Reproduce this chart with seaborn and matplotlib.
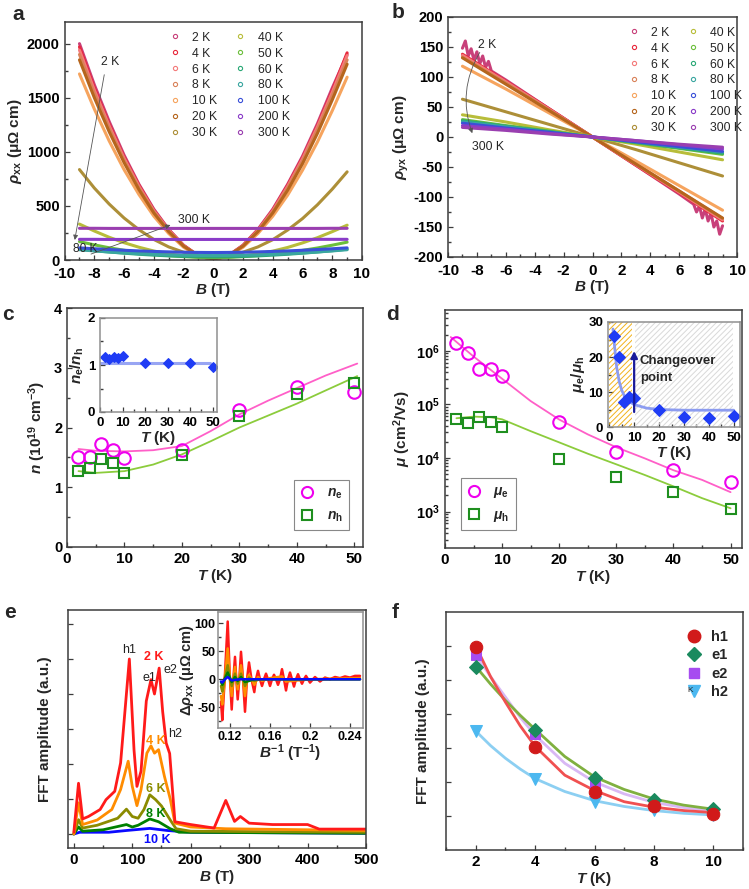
import matplotlib
matplotlib.use("Agg")
import matplotlib.pyplot as plt
import pandas as pd
import seaborn as sns
from matplotlib.lines import Line2D
from matplotlib.ticker import MultipleLocator, NullFormatter, LogLocator

# ---------------- data ----------------
temps = ["2 K", "4 K", "6 K", "8 K", "10 K", "20 K", "30 K",
         "40 K", "50 K", "60 K", "80 K", "100 K", "200 K", "300 K"]
temp_colors = ["#c8407a", "#e8283c", "#f47a7a", "#d9825a", "#f6a45e", "#b5651d", "#ad8f38",
               "#b8bd3a", "#6cbf3c", "#2aa876", "#3aa6a0", "#3a50d8", "#8a3cc8", "#9a3fb0"]

# panel a : rho_xx (uOhm cm) vs B (T)
B_a = [-9, -8, -7, -6, -5, -4, -3, -2, -1, 0, 1, 2, 3, 4, 5, 6, 7, 8, 9]
rxx_2K = [2000, 1620, 1280, 970, 700, 470, 283, 137, 40, 5, 40, 137, 283, 470, 700, 960, 1260, 1590, 1900]
rxx_4K = [1970, 1590, 1255, 950, 690, 460, 278, 134, 38, 5, 38, 134, 278, 460, 690, 945, 1240, 1565, 1915]
rxx_6K = [1940, 1570, 1240, 940, 680, 455, 275, 132, 38, 5, 38, 132, 275, 455, 680, 935, 1230, 1550, 1890]
rxx_8K = [1900, 1540, 1215, 920, 665, 445, 268, 130, 37, 5, 37, 130, 268, 445, 665, 915, 1205, 1520, 1850]
rxx_10K = [1720, 1395, 1100, 835, 605, 405, 245, 118, 34, 5, 34, 118, 245, 405, 600, 830, 1090, 1380, 1690]
rxx_20K = [1850, 1500, 1185, 900, 650, 435, 262, 128, 40, 8, 40, 128, 262, 435, 645, 890, 1170, 1480, 1810]
rxx_30K = [836, 665, 517, 388, 280, 190, 121, 72, 42, 32, 42, 72, 121, 188, 277, 383, 510, 655, 815]
rxx_40K = [332, 268, 210, 160, 118, 83, 57, 38, 26, 22, 26, 38, 56, 82, 116, 158, 206, 262, 322]
rxx_50K = [170, 140, 113, 90, 70, 54, 41, 31, 25, 23, 25, 31, 41, 54, 70, 89, 111, 137, 165]
rxx_60K = [100, 86, 74, 63, 53, 45, 38, 33, 30, 29, 30, 33, 38, 45, 53, 63, 74, 86, 100]
rxx_80K = [95, 84, 74, 65, 58, 52, 47, 44, 42, 41, 42, 44, 47, 52, 58, 65, 74, 84, 95]
rxx_100K = [112, 104, 97, 90, 84, 79, 75, 72, 70, 69, 70, 72, 75, 79, 84, 90, 97, 104, 112]
rxx_200K = [191, 191, 190, 190, 190, 190, 190, 190, 190, 190, 190, 190, 190, 190, 190, 190, 191, 191, 191]
rxx_300K = [293, 293, 292, 292, 292, 292, 292, 292, 292, 292, 292, 292, 292, 292, 292, 292, 292, 293, 293]
rxx_all = [rxx_2K, rxx_4K, rxx_6K, rxx_8K, rxx_10K, rxx_20K, rxx_30K,
           rxx_40K, rxx_50K, rxx_60K, rxx_80K, rxx_100K, rxx_200K, rxx_300K]

# panel b : rho_yx (uOhm cm) vs B (T)
B_b = [-9, -6, -3, 0, 3, 6, 9]
B_b2K = [-9, -8.8, -8.6, -8.4, -8.2, -8, -7.8, -7.6, -7.4, -7.2, -7, -6, -3, 0,
         3, 6, 7, 7.2, 7.4, 7.6, 7.8, 8, 8.2, 8.4, 8.6, 8.8, 9]
ryx_2K = [148, 160, 135, 147, 128, 142, 122, 135, 116, 126, 110, 95, 47, 0,
          -47, -95, -112, -125, -115, -135, -120, -140, -127, -150, -140, -162, -148]
ryx_4K = [138, 93, 47, 0, -47, -93, -140]
ryx_6K = [136, 92, 46, 0, -46, -92, -138]
ryx_8K = [133, 90, 45, 0, -45, -90, -136]
ryx_10K = [118, 80, 40, 0, -40, -81, -122]
ryx_20K = [132, 88, 44, 0, -45, -90, -135]
ryx_30K = [63, 42, 21, 0, -21, -43, -65]
ryx_40K = [37, 25, 12, 0, -12, -25, -38]
ryx_50K = [29, 19, 10, 0, -10, -19, -29]
ryx_60K = [27, 18, 9, 0, -9, -18, -27]
ryx_80K = [25, 17, 8, 0, -8, -17, -25]
ryx_100K = [23, 15, 8, 0, -8, -16, -24]
ryx_200K = [19, 13, 6, 0, -6, -13, -20]
ryx_300K = [16, 11, 5, 0, -6, -12, -17]
ryx_rest = [ryx_4K, ryx_6K, ryx_8K, ryx_10K, ryx_20K, ryx_30K, ryx_40K,
            ryx_50K, ryx_60K, ryx_80K, ryx_100K, ryx_200K, ryx_300K]

# panels c, d
T_cd = [2, 4, 6, 8, 10, 20, 30, 40, 50]
n_e = [1.51, 1.50, 1.73, 1.62, 1.49, 1.62, 2.29, 2.67, 2.60]
n_h = [1.28, 1.33, 1.48, 1.41, 1.24, 1.54, 2.19, 2.56, 2.74]
T_nfit = [2, 5, 10, 15, 20, 25, 30, 35, 40, 45, 50.5]
n_e_fit = [1.64, 1.61, 1.60, 1.62, 1.69, 1.94, 2.22, 2.45, 2.66, 2.87, 3.07]
n_h_fit = [1.27, 1.24, 1.27, 1.38, 1.55, 1.77, 2.00, 2.20, 2.40, 2.62, 2.86]
n_ratio = [1.18, 1.13, 1.17, 1.15, 1.20, 1.05, 1.05, 1.04, 0.95]
T_ratio_fit = [0, 49]
n_ratio_fit = [1.05, 1.05]

mu_e = [1.4e6, 9.2e5, 4.6e5, 4.5e5, 3.4e5, 4.7e4, 1.3e4, 5.9e3, 3.6e3]
mu_h = [5.3e4, 4.4e4, 5.8e4, 4.7e4, 3.8e4, 9.7e3, 4.5e3, 2.3e3, 1.12e3]
T_mue_fit = [1, 5, 10, 15, 20, 25, 30, 35, 40, 45, 50]
mu_e_fit = [1.8e6, 7.8e5, 3.0e5, 1.15e5, 5.2e4, 2.75e4, 1.58e4, 9.8e3, 5.9e3, 3.9e3, 2.3e3]
T_muh_fit = [2, 5, 8, 10, 15, 20, 25, 30, 35, 40, 45, 50]
mu_h_fit = [5.5e4, 5.9e4, 5.75e4, 5.25e4, 3.16e4, 1.95e4, 1.2e4, 7.6e3, 4.8e3, 2.95e3, 1.78e3, 1.15e3]
mu_ratio = [26, 20, 7.2, 8.7, 8.2, 4.8, 2.9, 2.6, 3.1]
T_mur_fit = [1.5, 2, 3, 4, 5, 6, 8, 10, 15, 20, 30, 40, 50]
mu_ratio_fit = [28, 24, 17, 13, 10.5, 9, 7.3, 6.4, 5.4, 5.0, 4.8, 4.8, 4.8]

# panel e : FFT amplitude vs frequency
f_2K = [0, 8, 15, 25, 45, 55, 70, 80, 95, 103, 108, 115, 124, 132, 138, 146, 152, 158, 164, 173,
        200, 240, 260, 275, 285, 300, 340, 400, 420, 500]
a_2K = [0.05, 1.45, 0.43, 0.5, 0.7, 0.98, 1.22, 2.03, 5.0, 2.4, 1.36, 1.8, 3.8, 4.41, 4.0, 4.74, 3.5,
        2.6, 2.3, 0.35, 0.27, 0.17, 0.96, 0.36, 0.5, 0.31, 0.27, 0.27, 0.14, 0.14]
f_4K = [0, 8, 15, 40, 65, 80, 93, 100, 108, 115, 125, 132, 138, 145, 155, 165, 173, 200, 260, 500]
a_4K = [0, 0.89, 0.27, 0.4, 0.7, 1.27, 2.08, 1.36, 0.81, 1.27, 2.31, 2.52, 2.31, 2.41, 1.65, 1.0,
        0.31, 0.2, 0.15, 0.1]
f_6K = [0, 8, 15, 40, 75, 90, 100, 110, 120, 130, 140, 150, 165, 175, 200, 500]
a_6K = [0, 0.41, 0.17, 0.25, 0.45, 0.71, 0.5, 0.45, 0.7, 1.12, 0.98, 0.8, 0.4, 0.15, 0.08, 0.05]
f_8K = [0, 8, 15, 50, 90, 100, 110, 130, 145, 165, 180, 500]
a_8K = [0, 0.2, 0.08, 0.12, 0.27, 0.2, 0.25, 0.43, 0.35, 0.15, 0.05, 0.02]
f_10K = [0, 10, 60, 90, 130, 160, 200, 500]
a_10K = [0, 0.05, 0.05, 0.1, 0.16, 0.1, 0.05, 0.02]

# inset e : oscillation vs 1/B
x_2K = [0.1110, 0.1123, 0.1150, 0.1177, 0.1197, 0.1217, 0.1233, 0.1250, 0.1263, 0.1277,
        0.1293, 0.1310, 0.1330, 0.1350, 0.1370, 0.1390, 0.1415, 0.1443, 0.1460, 0.1480,
        0.1500, 0.1520, 0.1540, 0.1560, 0.1580, 0.1600, 0.1620, 0.1640, 0.1660, 0.1680,
        0.1700, 0.1720, 0.1740, 0.1760, 0.1780, 0.1800, 0.1820, 0.1840, 0.1860, 0.1880,
        0.1900, 0.1920, 0.1940, 0.1960, 0.1980, 0.2000, 0.2050, 0.2100, 0.2150, 0.2200,
        0.2250, 0.2300, 0.2350, 0.2400, 0.2450, 0.2500]
d_2K = [-40, -73, 10, 103, 10, -54, 0, 40, 0, -36,
        0, 49, 0, -58, 0, 30, 0, -23, 0, 15,
        0, -12, 0, 10, 0, -12, 0, 8, 0, -10,
        0, 18, 0, -20, 0, 12, 0, -13, 0, 9,
        0, -8, 0, 6, 0, -6, 4, -4, 3, 0,
        4, 2, 5, 3, 6, 6]
x_4K = [0.1110, 0.1123, 0.1150, 0.1177, 0.1197, 0.1217, 0.1233, 0.1250, 0.1263, 0.1277,
        0.1293, 0.1310, 0.1330, 0.1350, 0.1370, 0.1390, 0.1415, 0.1443, 0.1480, 0.1520,
        0.1600, 0.1720, 0.1760, 0.2000, 0.2500]
d_4K = [-30, -45, 5, 55, 5, -30, 0, 22, 0, -18,
        0, 25, 0, -30, 0, 8, 0, -10, 4, -3,
        2, 5, -4, 0, 2]
x_6K = [0.1110, 0.1123, 0.1150, 0.1177, 0.1197, 0.1217, 0.1250, 0.1277, 0.1310, 0.1350,
        0.1390, 0.1443, 0.1500, 0.2500]
d_6K = [-12, -22, 3, 25, 3, -12, 10, -8, 10, -12, 3, -3, 0, 0]
x_8K = [0.1110, 0.1123, 0.1150, 0.1177, 0.1217, 0.1250, 0.1277, 0.1310, 0.1350, 0.1450, 0.2500]
d_8K = [-5, -10, 2, 12, -5, 4, -3, 4, -5, 0, 0]
x_10K = [0.1110, 0.1123, 0.1150, 0.1177, 0.1217, 0.1300, 0.2500]
d_10K = [-4, -6, 0, 4, -2, 0, 0]

# panel f : FFT amplitude vs T
T_f = [2, 4, 6, 8, 10]
amp_h1 = [4.98, 2.04, 0.72, 0.30, 0.05]
amp_e1 = [4.39, 2.53, 1.13, 0.46, 0.20]
amp_e2 = [4.73, 2.40, 0.98, 0.34, 0.12]
amp_h2 = [2.50, 1.08, 0.42, 0.18, 0.02]
T_ffit = [2, 2.5, 3, 3.5, 4, 5, 6, 7, 8, 9, 10]
fit_h1 = [5.0, 4.1, 3.35, 2.65, 2.05, 1.2, 0.75, 0.42, 0.26, 0.16, 0.1]
fit_e1 = [4.4, 3.88, 3.4, 2.96, 2.55, 1.75, 1.15, 0.78, 0.5, 0.32, 0.2]
fit_e2 = [4.75, 4.1, 3.5, 2.9, 2.38, 1.55, 1.0, 0.65, 0.4, 0.25, 0.15]
fit_h2 = [2.5, 2.07, 1.7, 1.38, 1.1, 0.72, 0.45, 0.28, 0.16, 0.08, 0.03]

# ---------------- style ----------------
sns.set_theme(style="ticks")
plt.rcParams["font.family"] = ["Liberation Sans", "DejaVu Sans"]
plt.rcParams.update({
    "font.weight": "bold", "axes.labelweight": "bold",
    "axes.unicode_minus": False,
    "mathtext.fontset": "custom",
    "mathtext.rm": "Liberation Sans:bold",
    "mathtext.it": "Liberation Sans:italic:bold",
    "mathtext.bf": "Liberation Sans:bold",
    "mathtext.sf": "Liberation Sans:bold",
    "xtick.direction": "in", "ytick.direction": "in",
    "axes.edgecolor": "#3c3c3c", "axes.linewidth": 1.1,
    "xtick.color": "#3c3c3c", "ytick.color": "#3c3c3c",
    "xtick.labelcolor": "black", "ytick.labelcolor": "black",
    "xtick.major.size": 3.5, "ytick.major.size": 3.5,
    "xtick.minor.size": 2.0, "ytick.minor.size": 2.0,
    "xtick.major.width": 0.9, "ytick.major.width": 0.9,
    "xtick.labelsize": 11, "ytick.labelsize": 10.5, "axes.labelsize": 11,
    "hatch.linewidth": 0.7,
    "axes.facecolor": "white", "figure.facecolor": "white",
})

W, H = 749, 889
fig = plt.figure(figsize=(W / 100, H / 100), dpi=100)


def add_ax(l, t, r, b):
    return fig.add_axes([l / W, 1 - b / H, (r - l) / W, (b - t) / H])


def panel_letter(x, y, s):
    fig.text(x / W, 1 - y / H, s, fontsize=15, fontweight="bold", ha="left", va="center")


# ---------------- panel a ----------------
axa = add_ax(64.6, 22, 362, 260)
df_a = pd.concat([pd.DataFrame({"B": B_a, "rho": v, "T": t}) for t, v in zip(temps, rxx_all)])
sns.lineplot(data=df_a, x="B", y="rho", hue="T", hue_order=temps, palette=temp_colors,
             lw=2.2, estimator=None, sort=False, legend=False, ax=axa)
axa.set_xlim(-10, 10)
axa.set_ylim(0, 2200)
axa.xaxis.set_major_locator(MultipleLocator(2))
axa.xaxis.set_minor_locator(MultipleLocator(1))
axa.yaxis.set_major_locator(MultipleLocator(500))
axa.yaxis.set_minor_locator(MultipleLocator(250))
axa.tick_params(axis="x", pad=5)
axa.set_xlabel(r"$B$ (T)", labelpad=0)
axa.set_ylabel(r"$\rho_{\mathrm{xx}}$ (μΩ cm)", labelpad=2)
handles = [Line2D([], [], marker="o", ls="", ms=3, mfc="none", mec=c, mew=0.8) for c in temp_colors]
axa.legend(handles, temps, ncol=2, loc="upper left", bbox_to_anchor=(0.33, 0.99), frameon=False,
           prop={"size": 8.8, "weight": "normal"}, handlelength=0.8, handletextpad=1.0,
           columnspacing=1.5, labelspacing=0.32, borderaxespad=0.2)
axa.annotate("", xy=(-9.35, 160), xytext=(-7.3, 1738),
             arrowprops=dict(arrowstyle="-|>", color="#555555", lw=0.6, mutation_scale=7))
axa.text(-6.95, 1828, "2 K", fontsize=8.8, fontweight="normal", ha="center", va="center")
axa.annotate("", xy=(-2.7, 332), xytext=(-8.4, 46),
             arrowprops=dict(arrowstyle="-|>", color="#555555", lw=0.6, mutation_scale=7))
axa.text(-1.3, 369, "300 K", fontsize=8.8, fontweight="normal", ha="center", va="center")
axa.text(-8.6, 98, "80 K", fontsize=8.6, fontweight="normal", ha="center", va="center")
panel_letter(12, 15, "a")

# ---------------- panel b ----------------
axb = add_ax(448, 17, 737, 257)
df_b = pd.concat([pd.DataFrame({"B": B_b2K, "rho": ryx_2K, "T": temps[0]})] +
                 [pd.DataFrame({"B": B_b, "rho": v, "T": t}) for t, v in zip(temps[1:], ryx_rest)])
sns.lineplot(data=df_b, x="B", y="rho", hue="T", hue_order=temps, palette=temp_colors,
             lw=2.2, estimator=None, sort=False, legend=False, ax=axb)
axb.set_xlim(-10, 10)
axb.set_ylim(-200, 200)
axb.xaxis.set_major_locator(MultipleLocator(2))
axb.xaxis.set_minor_locator(MultipleLocator(1))
axb.yaxis.set_major_locator(MultipleLocator(50))
axb.yaxis.set_minor_locator(MultipleLocator(25))
axb.tick_params(axis="x", pad=5)
axb.set_xlabel(r"$B$ (T)", labelpad=0)
axb.set_ylabel(r"$\rho_{\mathrm{yx}}$ (μΩ cm)", labelpad=2)
axb.legend(handles, temps, ncol=2, loc="upper left", bbox_to_anchor=(0.6, 0.99), frameon=False,
           prop={"size": 8.8, "weight": "normal"}, handlelength=0.8, handletextpad=1.0,
           columnspacing=1.0, labelspacing=0.32, borderaxespad=0.2)
axb.annotate("", xy=(-8.25, 2), xytext=(-7.7, 145),
             arrowprops=dict(arrowstyle="-|>", color="#555555", lw=0.6, mutation_scale=7,
                             connectionstyle="arc3,rad=0.25"))
axb.text(-7.3, 154, "2 K", fontsize=8.8, fontweight="normal", ha="center", va="center")
axb.text(-7.2, -16, "300 K", fontsize=8.8, fontweight="normal", ha="center", va="center")
panel_letter(392, 12, "b")

# ---------------- panel c ----------------
pink, green_fit = "#ff5fc8", "#8ccc3c"
mag, grn = "#ee00ee", "#1f8f1f"
axc = add_ax(67, 308, 363, 547)
sns.lineplot(x=T_nfit, y=n_e_fit, color=pink, lw=1.3, ax=axc)
sns.lineplot(x=T_nfit, y=n_h_fit, color=green_fit, lw=1.3, ax=axc)
sns.lineplot(x=T_cd, y=n_e, marker="o", linestyle="", ms=9, mfc="none", mec=mag, mew=1.5,
             color=mag, ax=axc)
sns.lineplot(x=T_cd, y=n_h, marker="s", linestyle="", ms=7.5, mfc="none", mec=grn, mew=1.5,
             color=grn, ax=axc)
axc.set_xlim(0, 51.5)
axc.set_ylim(0, 4)
axc.xaxis.set_major_locator(MultipleLocator(10))
axc.xaxis.set_minor_locator(MultipleLocator(5))
axc.yaxis.set_major_locator(MultipleLocator(1))
axc.yaxis.set_minor_locator(MultipleLocator(0.5))
axc.set_xlabel(r"$T$ (K)", labelpad=1)
axc.set_ylabel(r"$n$ (10$^{19}$ cm$^{-3}$)", labelpad=4)
hc = [Line2D([], [], marker="o", ls="", ms=8, mfc="none", mec=mag, mew=1.5),
      Line2D([], [], marker="s", ls="", ms=6.5, mfc="none", mec=grn, mew=1.5)]
legc = axc.legend(hc, [r"$n_{\mathrm{e}}$", r"$n_{\mathrm{h}}$"], loc="lower right",
                  bbox_to_anchor=(0.975, 0.04), frameon=True, fancybox=False, framealpha=1,
                  edgecolor="#888888", prop={"size": 10}, handlelength=1.0, handletextpad=0.9,
                  labelspacing=0.55, borderpad=0.45)
legc.get_frame().set_linewidth(0.8)
panel_letter(2, 315, "c")

# inset c
axci = add_ax(100, 318, 217, 412)
sns.lineplot(x=T_ratio_fit, y=n_ratio_fit, color="#7f8ff0", lw=2.2, alpha=0.8, ax=axci)
sns.lineplot(x=T_cd, y=n_ratio, marker="D", linestyle="", ms=5, mfc="#1f3cf5", mec="#1f3cf5",
             color="#1f3cf5", ax=axci)
axci.set_xlim(0, 52)
axci.set_ylim(0, 2)
axci.xaxis.set_major_locator(MultipleLocator(10))
axci.xaxis.set_minor_locator(MultipleLocator(5))
axci.yaxis.set_major_locator(MultipleLocator(1))
axci.yaxis.set_minor_locator(MultipleLocator(0.5))
for s in axci.spines.values():
    s.set_color("#909090")
axci.set_xlabel(r"$T$ (K)", labelpad=0)
axci.set_ylabel(r"$n_{\mathrm{e}}/n_{\mathrm{h}}$", labelpad=1)

# ---------------- panel d ----------------
axd = add_ax(445, 310, 742, 548)
axd.set_yscale("log")
sns.lineplot(x=T_mue_fit, y=mu_e_fit, color=pink, lw=1.3, ax=axd)
sns.lineplot(x=T_muh_fit, y=mu_h_fit, color=green_fit, lw=1.3, ax=axd)
sns.lineplot(x=T_cd, y=mu_e, marker="o", linestyle="", ms=9, mfc="none", mec=mag, mew=1.5,
             color=mag, ax=axd)
sns.lineplot(x=T_cd, y=mu_h, marker="s", linestyle="", ms=7.5, mfc="none", mec=grn, mew=1.5,
             color=grn, ax=axd)
axd.set_xlim(0, 52)
axd.set_ylim(209, 5.75e6)
axd.xaxis.set_major_locator(MultipleLocator(10))
axd.xaxis.set_minor_locator(MultipleLocator(5))
axd.yaxis.set_major_locator(LogLocator(base=10, numticks=10))
axd.yaxis.set_minor_locator(LogLocator(base=10, subs=(2, 3, 4, 5, 6, 7, 8, 9), numticks=20))
axd.yaxis.set_minor_formatter(NullFormatter())
axd.set_xlabel(r"$T$ (K)", labelpad=1)
axd.set_ylabel(r"$\mu$ (cm$^2$/Vs)", labelpad=2)
legd = axd.legend(hc, [r"$\mu_{\mathrm{e}}$", r"$\mu_{\mathrm{h}}$"], loc="lower left",
                  bbox_to_anchor=(0.03, 0.045), frameon=True, fancybox=False, framealpha=1,
                  edgecolor="#888888", prop={"size": 10}, handlelength=1.0, handletextpad=0.9,
                  labelspacing=0.55, borderpad=0.45)
legd.get_frame().set_linewidth(0.8)
panel_letter(386, 315, "d")

# inset d
axdi = add_ax(608, 322, 740, 427)
axdi.axvspan(0, 9.3, facecolor="none", edgecolor="#f2b21b", hatch="//////", lw=0)
axdi.axvspan(10.5, 49.5, facecolor="none", edgecolor="#d9d9d9", hatch="//////", lw=0)
sns.lineplot(x=T_mur_fit, y=mu_ratio_fit, color="#8c9cf0", lw=2.0, ax=axdi)
sns.lineplot(x=T_cd, y=mu_ratio, marker="D", linestyle="", ms=6, mfc="#1f3cf5", mec="#1f3cf5",
             color="#1f3cf5", ax=axdi)
axdi.annotate("", xy=(10, 22.5), xytext=(10, 3.5),
              arrowprops=dict(arrowstyle="-|>", color="#1a1a9a", lw=1.6, mutation_scale=10))
axdi.text(12.3, 18.9, "Changeover", fontsize=9.5, fontweight="bold", ha="left", va="center")
axdi.text(12.3, 13.9, "point", fontsize=9.5, fontweight="bold", ha="left", va="center")
axdi.set_xlim(-0.5, 52.5)
axdi.set_ylim(0, 30)
axdi.xaxis.set_major_locator(MultipleLocator(10))
axdi.xaxis.set_minor_locator(MultipleLocator(5))
axdi.yaxis.set_major_locator(MultipleLocator(10))
axdi.yaxis.set_minor_locator(MultipleLocator(5))
for s in axdi.spines.values():
    s.set_color("#909090")
axdi.set_xlabel(r"$T$ (K)", labelpad=0)
axdi.set_ylabel(r"$\mu_{\mathrm{e}}/\mu_{\mathrm{h}}$", labelpad=1)

# ---------------- panel e ----------------
c_red, c_or, c_ol, c_gr, c_bl = "#ff1a1a", "#ff8c00", "#8b8b00", "#008000", "#0a0aff"
axe = add_ax(68, 610, 366, 848)
for fx, fy, c in [(f_10K, a_10K, c_bl), (f_8K, a_8K, c_gr), (f_6K, a_6K, c_ol),
                  (f_4K, a_4K, c_or), (f_2K, a_2K, c_red)]:
    sns.lineplot(x=fx, y=fy, color=c, lw=2.0, sort=False, estimator=None, ax=axe)
axe.set_xlim(-10, 500)
axe.set_ylim(-0.4, 6.4)
axe.xaxis.set_major_locator(MultipleLocator(100))
axe.xaxis.set_minor_locator(MultipleLocator(50))
axe.yaxis.set_major_locator(MultipleLocator(1))
axe.set_yticklabels([])
axe.set_xlabel(r"$B$ (T)", labelpad=1)
axe.set_ylabel("FFT amplitude (a.u.)", labelpad=8)
for s, x, y, c, w in [("h1", 95, 5.25, "#222222", "normal"), ("e1", 130, 4.47, "#222222", "normal"),
                      ("e2", 166, 4.68, "#222222", "normal"), ("h2", 174, 2.87, "#222222", "normal"),
                      ("2 K", 137, 5.06, c_red, "bold"), ("4 K", 140, 2.65, c_or, "bold"),
                      ("6 K", 140, 1.3, c_ol, "bold"), ("8 K", 140, 0.58, c_gr, "bold"),
                      ("10 K", 143, -0.16, c_bl, "bold")]:
    axe.text(x, y, s, color=c, fontsize=9, fontweight=w, ha="center", va="center")
panel_letter(4, 612, "e")

# inset e
axei = add_ax(218, 612, 363, 728)
for fx, fy, c in [(x_2K, d_2K, c_red), (x_4K, d_4K, c_or), (x_6K, d_6K, c_ol),
                  (x_8K, d_8K, c_gr), (x_10K, d_10K, c_bl)]:
    sns.lineplot(x=fx, y=fy, color=c, lw=1.8, sort=False, estimator=None, ax=axei)
axei.set_xlim(0.108, 0.253)
axei.set_ylim(-87, 120)
axei.xaxis.set_minor_locator(MultipleLocator(0.02))
axei.yaxis.set_major_locator(MultipleLocator(50))
axei.yaxis.set_minor_locator(MultipleLocator(25))
axei.set_xticks([0.12, 0.16, 0.20, 0.24])
axei.set_xticklabels(["0.12", "0.16", "0.2", "0.24"])
for s in axei.spines.values():
    s.set_color("#909090")
axei.set_xlabel(r"$B^{-1}$ (T$^{-1}$)", labelpad=0)
axei.set_ylabel(r"$\Delta\rho_{\mathrm{xx}}$ (μΩ cm)", labelpad=-1, fontsize=10.5)

# ---------------- panel f ----------------
axf = add_ax(446, 612, 743, 850)
fcols = {"h1": "#f05050", "e1": "#80b040", "e2": "#d8b8f4", "h2": "#8ccff2"}
mcols = {"h1": "#d11a1a", "e1": "#1a8a5e", "e2": "#a64cf0", "h2": "#4cb8f0"}
for k, fy in [("h2", fit_h2), ("e2", fit_e2), ("e1", fit_e1), ("h1", fit_h1)]:
    sns.lineplot(x=T_ffit, y=fy, color=fcols[k], lw=2.0, ax=axf)
mk = {"h1": ("o", 9), "e1": ("D", 7.5), "e2": ("s", 7.5), "h2": ("v", 9)}
for k, fy in [("h2", amp_h2), ("e2", amp_e2), ("e1", amp_e1), ("h1", amp_h1)]:
    m, s = mk[k]
    sns.lineplot(x=T_f, y=fy, marker=m, linestyle="", ms=s, mfc=mcols[k], mec=mcols[k],
                 color=mcols[k], ax=axf)
axf.set_xlim(1, 11)
axf.set_ylim(-1, 6)
axf.xaxis.set_major_locator(MultipleLocator(2))
axf.xaxis.set_minor_locator(MultipleLocator(1))
axf.set_yticks([0, 1, 2, 3, 4, 5])
axf.set_yticklabels([])
axf.set_xlabel(r"$T$ (K)", labelpad=1)
axf.set_ylabel("FFT amplitude (a.u.)", labelpad=8)
hf = [Line2D([], [], marker=mk[k][0], ls="", ms=mk[k][1], mfc=mcols[k], mec=mcols[k])
      for k in ["h1", "e1", "e2", "h2"]]
axf.legend(hf, ["h1", "e1", "e2", "h2"], loc="upper right", bbox_to_anchor=(0.975, 0.955),
           frameon=False, prop={"size": 10.5, "weight": "bold"}, handlelength=1.0,
           handletextpad=0.7, labelspacing=0.3, borderaxespad=0.1)
fig.text(690 / W, 1 - 690 / H, "K", fontsize=6, fontweight="normal", ha="center", va="center")
panel_letter(392, 612, "f")

# smaller tick labels inside the insets, bold tick labels everywhere
for ax in [axci, axdi]:
    ax.tick_params(labelsize=9.5)
axei.tick_params(labelsize=9, pad=2)
for ax in fig.axes:
    for lab in ax.get_xticklabels(which="both") + ax.get_yticklabels(which="both"):
        lab.set_fontweight("bold")

fig.savefig("out.png", dpi=100)
